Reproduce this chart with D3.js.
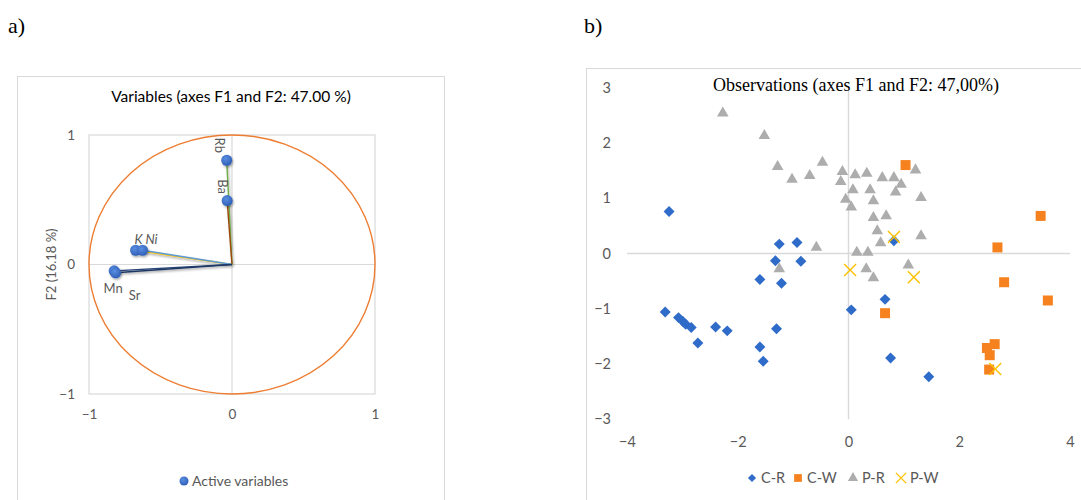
<!DOCTYPE html>
<html>
<head>
<meta charset="utf-8">
<script src="https://cdn.jsdelivr.net/npm/d3@7"></script>
<style>
  body { margin: 0; background: #fff; }
  svg { display: block; }
  text { font-family: Lato, "Open Sans", sans-serif; }
</style>
</head>
<body>
<svg id="chart" width="1081" height="500"></svg>
<script>
// ---- data: panel a (variables, correlation circle) ----
const varNames = ['Rb', 'Ba', 'K', 'Ni', 'Mn', 'Sr'];
const varF1 = [-0.037, -0.034, -0.674, -0.626, -0.824, -0.814];
const varF2 = [0.805, 0.494, 0.11, 0.11, -0.049, -0.064];
const axisTicksA = [-1, 0, 1];

// ---- data: panel b (observations) ----
const seriesNames = ['C-R', 'C-W', 'P-R', 'P-W'];
const crPoints = [
  [-3.24, 0.76], [-1.25, 0.17], [-0.93, 0.20], [-1.32, -0.13], [-0.86, -0.14],
  [-1.60, -0.47], [-1.21, -0.54], [-3.31, -1.06], [-3.07, -1.16], [-2.99, -1.23],
  [-2.94, -1.28], [-2.84, -1.34], [-2.72, -1.62], [-2.40, -1.33], [-2.19, -1.40],
  [-1.30, -1.36], [-1.60, -1.69], [-1.54, -1.95], [0.05, -1.02], [0.66, -0.83],
  [0.76, -1.89], [1.45, -2.23], [0.82, 0.23]
];
const cwPoints = [
  [1.03, 1.60], [3.47, 0.68], [2.69, 0.11], [2.81, -0.52], [3.60, -0.85],
  [0.66, -1.08], [2.50, -1.71], [2.64, -1.64], [2.55, -1.84], [2.54, -2.10]
];
const prPoints = [
  [-2.27, 2.54], [-1.52, 2.13], [-1.28, 1.57], [-1.02, 1.34], [-0.70, 1.41],
  [-0.47, 1.65], [-0.11, 1.48], [-0.14, 1.30], [0.12, 1.42], [0.33, 1.45],
  [0.61, 1.37], [0.82, 1.37], [1.21, 1.51], [0.95, 1.25], [0.08, 1.15],
  [0.39, 1.15], [0.85, 1.11], [-0.05, 0.98], [0.05, 0.84], [0.45, 0.95],
  [1.31, 1.01], [0.45, 0.65], [0.68, 0.68], [0.52, 0.41], [0.58, 0.19],
  [1.31, 0.32], [-0.58, 0.11], [0.15, 0.02], [0.35, 0.02], [-1.25, -0.28],
  [0.32, -0.28], [0.45, -0.44], [1.08, -0.21]
];
const pwPoints = [[0.82, 0.30], [0.03, -0.30], [1.18, -0.43], [2.65, -2.09]];
const xTicksB = [-4, -2, 0, 2, 4];
const yTicksB = [-3, -2, -1, 0, 1, 2, 3];

// ---- styling ----
const gridColor = '#d9d9d9';
const textGray = '#595959';
const lineColors = {Rb: '#70ad47', Ba: '#9e480e', K: '#ffc000', Ni: '#5b9bd5', Mn: '#264478', Sr: '#1f3864'};
const labelPos = {
  Rb: {dx: -7, dy: -15, rotate: 90, italic: false},
  Ba: {dx: -5, dy: -14, rotate: 90, italic: false},
  K: {dx: 3, dy: -11, rotate: 0, italic: true},
  Ni: {dx: 9, dy: -11, rotate: 0, italic: true},
  Mn: {dx: -1, dy: 18, rotate: 0, italic: false},
  Sr: {dx: 19, dy: 23, rotate: 0, italic: false}
};
const seriesColors = {'C-R': '#2f6bc8', 'C-W': '#f5821f', 'P-R': '#adadad', 'P-W': '#ffc000'};

const svg = d3.select('#chart');

const defs = svg.append('defs');
defs.append('filter').attr('id', 'shadow')
  .attr('x', '-50%').attr('y', '-50%').attr('width', '200%').attr('height', '200%')
  .append('feDropShadow')
  .attr('dx', 1).attr('dy', 1.5).attr('stdDeviation', 1.2)
  .attr('flood-color', '#000').attr('flood-opacity', 0.35);
const grad = defs.append('radialGradient').attr('id', 'ball').attr('cx', '40%').attr('cy', '35%').attr('r', '65%');
grad.append('stop').attr('offset', '0%').attr('stop-color', '#5a8ee0');
grad.append('stop').attr('offset', '100%').attr('stop-color', '#2f5fb8');

// panel letters
svg.append('text').attr('x', 8).attr('y', 33)
  .style('font-family', '"Liberation Serif", "Times New Roman", serif')
  .style('font-size', '22px').text('a)');
svg.append('text').attr('x', 584).attr('y', 33)
  .style('font-family', '"Liberation Serif", "Times New Roman", serif')
  .style('font-size', '22px').text('b)');

// ================= panel a =================
svg.append('rect')
  .attr('x', 17.5).attr('y', 76.5).attr('width', 427).attr('height', 440)
  .attr('fill', 'none').attr('stroke', gridColor);

const xA = d3.scaleLinear().domain([-1, 1]).range([89, 375]);
const yA = d3.scaleLinear().domain([-1, 1]).range([394, 135]);

const gA = svg.append('g');

gA.append('text')
  .attr('x', (xA(-1) + xA(1)) / 2 - 1).attr('y', 102)
  .attr('text-anchor', 'middle')
  .style('font-size', '15.5px').attr('fill', '#000')
  .text('Variables (axes F1 and F2: 47.00 %)');

// grid box and zero lines
gA.append('rect')
  .attr('x', xA(-1)).attr('y', yA(1))
  .attr('width', xA(1) - xA(-1)).attr('height', yA(-1) - yA(1))
  .attr('fill', 'none').attr('stroke', gridColor).attr('stroke-width', 1.2);
gA.append('line')
  .attr('x1', xA(0)).attr('x2', xA(0)).attr('y1', yA(1)).attr('y2', yA(-1))
  .attr('stroke', gridColor).attr('stroke-width', 1.2);
gA.append('line')
  .attr('x1', xA(-1)).attr('x2', xA(1)).attr('y1', yA(0)).attr('y2', yA(0))
  .attr('stroke', gridColor).attr('stroke-width', 1.2);

// axes
const axA_x = gA.append('g')
  .attr('transform', `translate(0,${yA(-1)})`)
  .call(d3.axisBottom(xA).tickValues(axisTicksA).tickSize(0).tickPadding(15).tickFormat(d3.format('d')));
const axA_y = gA.append('g')
  .attr('transform', `translate(${xA(-1)},0)`)
  .call(d3.axisLeft(yA).tickValues(axisTicksA).tickSize(0).tickPadding(14).tickFormat(d3.format('d')));
[axA_x, axA_y].forEach(ax => {
  ax.select('.domain').remove();
  ax.selectAll('text').style('font-size', '13.5px').style('font-family', 'Lato, sans-serif').attr('fill', textGray);
});

gA.append('text')
  .attr('transform', `translate(51,${yA(0)}) rotate(-90)`)
  .attr('text-anchor', 'middle').attr('dy', '0.35em')
  .style('font-size', '13px').attr('fill', textGray)
  .text('F2 (16.18 %)');

// unit circle
gA.append('ellipse')
  .attr('cx', xA(0)).attr('cy', yA(0))
  .attr('rx', xA(1) - xA(0)).attr('ry', yA(0) - yA(1))
  .attr('fill', 'none').attr('stroke', '#ed7d31').attr('stroke-width', 1.4);

const vars = varNames.map((n, i) => ({name: n, x: varF1[i], y: varF2[i]}));

gA.append('g').attr('filter', 'url(#shadow)')
  .selectAll('line').data(vars).join('line')
  .attr('x1', xA(0)).attr('y1', yA(0))
  .attr('x2', d => xA(d.x)).attr('y2', d => yA(d.y))
  .attr('stroke', d => lineColors[d.name]).attr('stroke-width', 1.4);

gA.append('g').attr('filter', 'url(#shadow)')
  .selectAll('circle').data(vars).join('circle')
  .attr('cx', d => xA(d.x)).attr('cy', d => yA(d.y)).attr('r', 5.5)
  .attr('fill', 'url(#ball)');

gA.append('g').selectAll('text').data(vars).join('text')
  .attr('transform', d => {
    const p = labelPos[d.name];
    return `translate(${xA(d.x) + p.dx},${yA(d.y) + p.dy}) rotate(${p.rotate})`;
  })
  .attr('text-anchor', 'middle').attr('dy', '0.35em')
  .style('font-size', '13px')
  .style('font-style', d => labelPos[d.name].italic ? 'italic' : 'normal')
  .attr('fill', textGray)
  .text(d => d.name);

// legend a
gA.append('circle').attr('cx', 184).attr('cy', 481).attr('r', 4.5).attr('fill', 'url(#ball)');
gA.append('text').attr('x', 192).attr('y', 481).attr('dy', '0.35em')
  .style('font-size', '14px').attr('fill', textGray).text('Active variables');

// ================= panel b =================
svg.append('rect')
  .attr('x', 586.5).attr('y', 68.5).attr('width', 600).attr('height', 450)
  .attr('fill', 'none').attr('stroke', gridColor);

const xB = d3.scaleLinear().domain([-4, 4]).range([627, 1070]);
const yB = d3.scaleLinear().domain([-3, 3]).range([419.3, 87.7]);

const gB = svg.append('g');

gB.append('line')
  .attr('x1', xB(0)).attr('x2', xB(0)).attr('y1', yB(3)).attr('y2', yB(-3))
  .attr('stroke', gridColor).attr('stroke-width', 1.4);
gB.append('line')
  .attr('x1', xB(-4)).attr('x2', xB(4)).attr('y1', yB(0)).attr('y2', yB(0))
  .attr('stroke', gridColor).attr('stroke-width', 1.4);

const axB_x = gB.append('g')
  .attr('transform', `translate(0,${yB(-3)})`)
  .call(d3.axisBottom(xB).tickValues(xTicksB).tickSize(0).tickPadding(17).tickFormat(d3.format('d')));
const axB_y = gB.append('g')
  .attr('transform', `translate(${xB(-4)},0)`)
  .call(d3.axisLeft(yB).tickValues(yTicksB).tickSize(0).tickPadding(16).tickFormat(d3.format('d')));
[axB_x, axB_y].forEach(ax => {
  ax.select('.domain').remove();
  ax.selectAll('text').style('font-size', '14.5px').style('font-family', 'Lato, sans-serif').attr('fill', textGray);
});

gB.append('text')
  .attr('x', 856).attr('y', 91)
  .attr('text-anchor', 'middle')
  .style('font-family', '"Liberation Serif", "Times New Roman", serif')
  .style('font-size', '18px').attr('fill', '#000')
  .text('Observations (axes F1 and F2: 47,00%)');

const shapes = {
  'C-R': {type: d3.symbolSquare, size: 60, rotate: 45, fill: true},
  'C-W': {type: d3.symbolSquare, size: 100, rotate: 0, fill: true},
  'P-R': {type: d3.symbolTriangle, size: 58, rotate: 0, fill: true},
  'P-W': {type: d3.symbolX, size: 95, rotate: 0, fill: false}
};
const seriesData = {'C-R': crPoints, 'C-W': cwPoints, 'P-R': prPoints, 'P-W': pwPoints};

seriesNames.forEach(name => {
  const s = shapes[name];
  const path = d3.symbol(s.type, s.size)();
  gB.append('g').selectAll('path').data(seriesData[name]).join('path')
    .attr('d', path)
    .attr('transform', d => `translate(${xB(d[0])},${yB(d[1])}) rotate(${s.rotate})`)
    .attr('fill', s.fill ? seriesColors[name] : 'none')
    .attr('stroke', s.fill ? 'none' : seriesColors[name])
    .attr('stroke-width', 1.4);
});

// legend b
const legendX = {'C-R': 752, 'C-W': 798, 'P-R': 853, 'P-W': 901};
const legendSize = {'C-R': 34, 'C-W': 60, 'P-R': 45, 'P-W': 70};
const gLeg = gB.append('g');
seriesNames.forEach(name => {
  const s = shapes[name];
  gLeg.append('path')
    .attr('d', d3.symbol(s.type, legendSize[name])())
    .attr('transform', `translate(${legendX[name]},478) rotate(${s.rotate})`)
    .attr('fill', s.fill ? seriesColors[name] : 'none')
    .attr('stroke', s.fill ? 'none' : seriesColors[name])
    .attr('stroke-width', 1.3);
  gLeg.append('text')
    .attr('x', legendX[name] + 9).attr('y', 478).attr('dy', '0.35em')
    .style('font-size', '14.5px').attr('fill', textGray)
    .text(name);
});
</script>
</body>
</html>
